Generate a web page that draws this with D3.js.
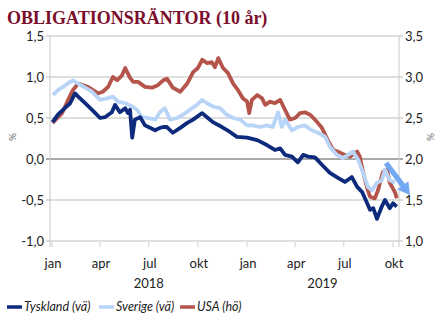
<!DOCTYPE html>
<html>
<head>
<meta charset="utf-8">
<script src="https://cdn.jsdelivr.net/npm/d3@7"></script>
<style>
  body { margin: 0; background: #fff; }
  svg text { font-family: Lato, "Open Sans", sans-serif; }
</style>
</head>
<body>
<div id="chart"></div>
<script>
// Data (10-year bond yields, %)
var deDates = ["2018-01-02","2018-01-12","2018-01-25","2018-02-04","2018-02-13","2018-02-19","2018-03-04","2018-03-17","2018-04-01","2018-04-10","2018-04-23","2018-04-29","2018-05-08","2018-05-18","2018-05-23","2018-05-27","2018-05-31","2018-06-05","2018-06-15","2018-06-24","2018-07-13","2018-07-22","2018-07-28","2018-08-04","2018-08-15","2018-08-29","2018-09-11","2018-09-22","2018-10-09","2018-10-18","2018-10-29","2018-11-15","2018-11-30","2018-12-13","2019-01-01","2019-01-20","2019-02-07","2019-02-22","2019-03-04","2019-03-13","2019-03-26","2019-04-06","2019-04-16","2019-04-25","2019-05-08","2019-05-21","2019-06-05","2019-06-20","2019-07-03","2019-07-16","2019-07-26","2019-08-04","2019-08-11","2019-08-19","2019-08-25","2019-09-01","2019-09-10","2019-09-16","2019-09-25","2019-10-01","2019-10-08"];
var deValues = [0.45,0.54,0.62,0.68,0.80,0.76,0.68,0.60,0.50,0.51,0.57,0.66,0.57,0.62,0.56,0.60,0.26,0.48,0.51,0.41,0.35,0.38,0.39,0.39,0.32,0.38,0.44,0.48,0.56,0.51,0.45,0.39,0.33,0.27,0.26,0.23,0.17,0.11,0.13,0.05,0.03,-0.04,0.05,0.03,0.02,-0.07,-0.17,-0.23,-0.28,-0.22,-0.34,-0.40,-0.50,-0.62,-0.60,-0.73,-0.58,-0.50,-0.60,-0.54,-0.58];

var seDates = ["2018-01-03","2018-01-12","2018-01-22","2018-02-04","2018-02-09","2018-02-19","2018-03-04","2018-03-17","2018-04-01","2018-04-14","2018-04-25","2018-05-04","2018-05-18","2018-05-31","2018-06-09","2018-06-18","2018-06-30","2018-07-13","2018-07-22","2018-07-31","2018-08-10","2018-08-23","2018-09-03","2018-09-16","2018-09-29","2018-10-09","2018-10-18","2018-10-29","2018-11-11","2018-11-24","2018-12-06","2018-12-19","2019-01-01","2019-01-12","2019-01-25","2019-02-07","2019-02-18","2019-02-28","2019-03-07","2019-03-13","2019-03-26","2019-04-06","2019-04-19","2019-05-02","2019-05-14","2019-05-27","2019-06-05","2019-06-18","2019-06-29","2019-07-09","2019-07-18","2019-07-28","2019-08-06","2019-08-15","2019-08-23","2019-09-01","2019-09-10","2019-09-16","2019-09-25","2019-10-05"];
var seValues = [0.78,0.84,0.88,0.94,0.96,0.92,0.87,0.82,0.72,0.74,0.76,0.70,0.68,0.64,0.60,0.51,0.50,0.48,0.57,0.62,0.48,0.50,0.54,0.60,0.66,0.72,0.68,0.64,0.62,0.54,0.50,0.48,0.41,0.41,0.39,0.41,0.39,0.57,0.39,0.48,0.35,0.39,0.41,0.35,0.32,0.27,0.15,0.05,0.01,0.05,0.09,-0.01,-0.17,-0.34,-0.38,-0.29,-0.26,-0.13,-0.26,-0.29];

var usDates = ["2018-01-02","2018-01-20","2018-01-31","2018-02-09","2018-02-19","2018-02-28","2018-03-09","2018-03-19","2018-03-28","2018-04-06","2018-04-16","2018-04-25","2018-05-03","2018-05-12","2018-05-18","2018-05-27","2018-06-02","2018-06-11","2018-06-24","2018-07-07","2018-07-18","2018-07-28","2018-08-04","2018-08-15","2018-08-29","2018-09-11","2018-09-22","2018-10-01","2018-10-09","2018-10-18","2018-10-27","2018-11-02","2018-11-08","2018-11-17","2018-11-26","2018-12-06","2018-12-15","2018-12-24","2019-01-01","2019-01-05","2019-01-10","2019-01-20","2019-01-29","2019-02-04","2019-02-13","2019-02-22","2019-03-04","2019-03-13","2019-03-22","2019-04-01","2019-04-10","2019-04-19","2019-04-29","2019-05-08","2019-05-21","2019-06-01","2019-06-11","2019-06-20","2019-07-03","2019-07-13","2019-07-26","2019-07-31","2019-08-06","2019-08-13","2019-08-19","2019-08-28","2019-09-03","2019-09-12","2019-09-20","2019-09-25","2019-10-05","2019-10-08"];
var usValues = [2.44,2.56,2.72,2.84,2.92,2.90,2.88,2.84,2.80,2.82,2.88,3.00,2.96,3.02,3.11,2.99,2.94,2.94,2.88,2.87,2.90,2.96,2.98,2.87,2.82,2.92,3.06,3.11,3.21,3.17,3.18,3.12,3.23,3.11,3.05,2.92,2.84,2.74,2.70,2.56,2.72,2.78,2.74,2.66,2.70,2.68,2.72,2.60,2.48,2.50,2.56,2.57,2.54,2.48,2.38,2.23,2.11,2.09,2.05,2.03,2.09,2.03,1.84,1.66,1.54,1.52,1.62,1.84,1.87,1.71,1.59,1.52];

var leftTicks = [-1.0, -0.5, 0.0, 0.5, 1.0, 1.5];
var rightTicks = [1.0, 1.5, 2.0, 2.5, 3.0, 3.5];
var monthTicks = ["2018-01-01","2018-04-01","2018-07-01","2018-10-01","2019-01-01","2019-04-01","2019-07-01","2019-10-01"];
var monthNames = ["jan","apr","jul","okt","jan","apr","jul","okt"];
var yearLabels = [{ label: "2018", date: "2018-07-01" }, { label: "2019", date: "2019-05-22" }];
var legendNames = ["Tyskland (vä)", "Sverige (vä)", "USA (hö)"];

var colors = { de: "#0d2a7c", se: "#b8d4f7", us: "#b4544b" };

var parse = d3.timeParse("%Y-%m-%d");
var fmt = function(v) { return d3.format(".1f")(v).replace(".", ",").replace("−", "-"); };

var svg = d3.select("#chart").append("svg")
  .attr("width", 446)
  .attr("height", 326);

// Title
svg.append("text")
  .attr("x", 7)
  .attr("y", 24)
  .style("font-family", "'Liberation Serif', 'DejaVu Serif', serif")
  .style("font-weight", "bold")
  .style("font-size", "18px")
  .attr("fill", "#7b0d2c")
  .text("OBLIGATIONSRÄNTOR (10 år)");

var plotLeft = 50, plotRight = 399, plotTop = 36, plotBottom = 241;

var x = d3.scaleTime()
  .domain([parse("2018-01-01"), parse("2019-10-01")])
  .range([52, 393]);

var yL = d3.scaleLinear().domain([-1, 1.5]).range([plotBottom, plotTop]);
var yR = d3.scaleLinear().domain([1, 3.5]).range([plotBottom, plotTop]);

// Gridlines
svg.append("g").selectAll("line")
  .data(leftTicks)
  .enter().append("line")
    .attr("x1", plotLeft - 4)
    .attr("x2", plotRight + 4)
    .attr("y1", function(d) { return yL(d); })
    .attr("y2", function(d) { return yL(d); })
    .attr("stroke", function(d) { return d === 0 ? "#555" : "#bdbdbd"; })
    .attr("stroke-width", 1);

// Axis lines
svg.append("line").attr("x1", plotLeft).attr("x2", plotLeft).attr("y1", plotTop).attr("y2", plotBottom + 6)
  .attr("stroke", "#c8c8c8");
svg.append("line").attr("x1", plotRight).attr("x2", plotRight).attr("y1", plotTop).attr("y2", plotBottom + 6)
  .attr("stroke", "#c8c8c8");

// Left tick labels
svg.append("g").selectAll("text")
  .data(leftTicks)
  .enter().append("text")
    .attr("x", 44)
    .attr("y", function(d) { return yL(d); })
    .attr("dy", "0.35em")
    .attr("text-anchor", "end")
    .style("font-size", "13px")
    .attr("fill", "#222")
    .text(function(d) { return fmt(d); });

// Right tick labels
svg.append("g").selectAll("text")
  .data(rightTicks)
  .enter().append("text")
    .attr("x", 405)
    .attr("y", function(d) { return yR(d); })
    .attr("dy", "0.35em")
    .attr("text-anchor", "start")
    .style("font-size", "13px")
    .attr("fill", "#222")
    .text(function(d) { return fmt(d); });

// % labels
svg.append("text")
  .attr("transform", "translate(16,137) rotate(-90)")
  .attr("text-anchor", "middle")
  .style("font-size", "10px")
  .attr("fill", "#666")
  .text("%");
svg.append("text")
  .attr("transform", "translate(434,137) rotate(-90)")
  .attr("text-anchor", "middle")
  .style("font-size", "10px")
  .attr("fill", "#666")
  .text("%");

// X ticks and labels
svg.append("g").selectAll("line")
  .data(monthTicks)
  .enter().append("line")
    .attr("x1", function(d) { return x(parse(d)); })
    .attr("x2", function(d) { return x(parse(d)); })
    .attr("y1", plotBottom + 1)
    .attr("y2", plotBottom + 6)
    .attr("stroke", "#d0d0d0");

svg.append("g").selectAll("text")
  .data(monthTicks)
  .enter().append("text")
    .attr("x", function(d) { return x(parse(d)) + 1; })
    .attr("y", 268)
    .attr("text-anchor", "middle")
    .style("font-size", "13px")
    .attr("fill", "#222")
    .text(function(d, i) { return monthNames[i]; });

svg.append("g").selectAll("text")
  .data(yearLabels)
  .enter().append("text")
    .attr("x", function(d) { return x(parse(d.date)); })
    .attr("y", 288)
    .attr("text-anchor", "middle")
    .style("font-size", "13px")
    .attr("fill", "#222")
    .text(function(d) { return d.label; });

// Lines
function toPoints(dates, values) {
  return dates.map(function(d, i) { return { date: parse(d), value: values[i] }; });
}

var lineL = d3.line()
  .x(function(d) { return x(d.date); })
  .y(function(d) { return yL(d.value); });
var lineR = d3.line()
  .x(function(d) { return x(d.date); })
  .y(function(d) { return yR(d.value); });

svg.append("path")
  .datum(toPoints(usDates, usValues))
  .attr("d", lineR)
  .attr("fill", "none")
  .attr("stroke", colors.us)
  .attr("stroke-width", 3.8)
  .attr("stroke-linejoin", "round");

svg.append("path")
  .datum(toPoints(seDates, seValues))
  .attr("d", lineL)
  .attr("fill", "none")
  .attr("stroke", colors.se)
  .attr("stroke-width", 3.8)
  .attr("stroke-linejoin", "round");

svg.append("path")
  .datum(toPoints(deDates, deValues))
  .attr("d", lineL)
  .attr("fill", "none")
  .attr("stroke", colors.de)
  .attr("stroke-width", 3.8)
  .attr("stroke-linejoin", "round");

// Arrow annotation
var ax0 = 386, ay0 = 163, ax1 = 410, ay1 = 195;
var ang = Math.atan2(ay1 - ay0, ax1 - ax0);
var headLen = 12, headW = 7, shaftW = 2.6;
var bx = ax1 - headLen * Math.cos(ang), by = ay1 - headLen * Math.sin(ang);
var nx = -Math.sin(ang), ny = Math.cos(ang);
var arrowPts = [
  [ax0 + nx * shaftW, ay0 + ny * shaftW],
  [bx + nx * shaftW, by + ny * shaftW],
  [bx + nx * headW, by + ny * headW],
  [ax1, ay1],
  [bx - nx * headW, by - ny * headW],
  [bx - nx * shaftW, by - ny * shaftW],
  [ax0 - nx * shaftW, ay0 - ny * shaftW]
];
svg.append("polygon")
  .attr("points", arrowPts.map(function(p) { return p.join(","); }).join(" "))
  .attr("fill", "#72a9f2");

// Legend
var legendX = [7, 99, 180];
var legendColors = [colors.de, colors.se, colors.us];
var legend = svg.append("g");
legendNames.forEach(function(name, i) {
  legend.append("line")
    .attr("x1", legendX[i]).attr("x2", legendX[i] + 15)
    .attr("y1", 307).attr("y2", 307)
    .attr("stroke", legendColors[i])
    .attr("stroke-width", 3.5);
  legend.append("text")
    .attr("x", legendX[i] + 17)
    .attr("y", 311)
    .style("font-size", "12.5px")
    .style("font-style", "italic")
    .attr("fill", "#222")
    .text(name);
});
</script>
</body>
</html>
